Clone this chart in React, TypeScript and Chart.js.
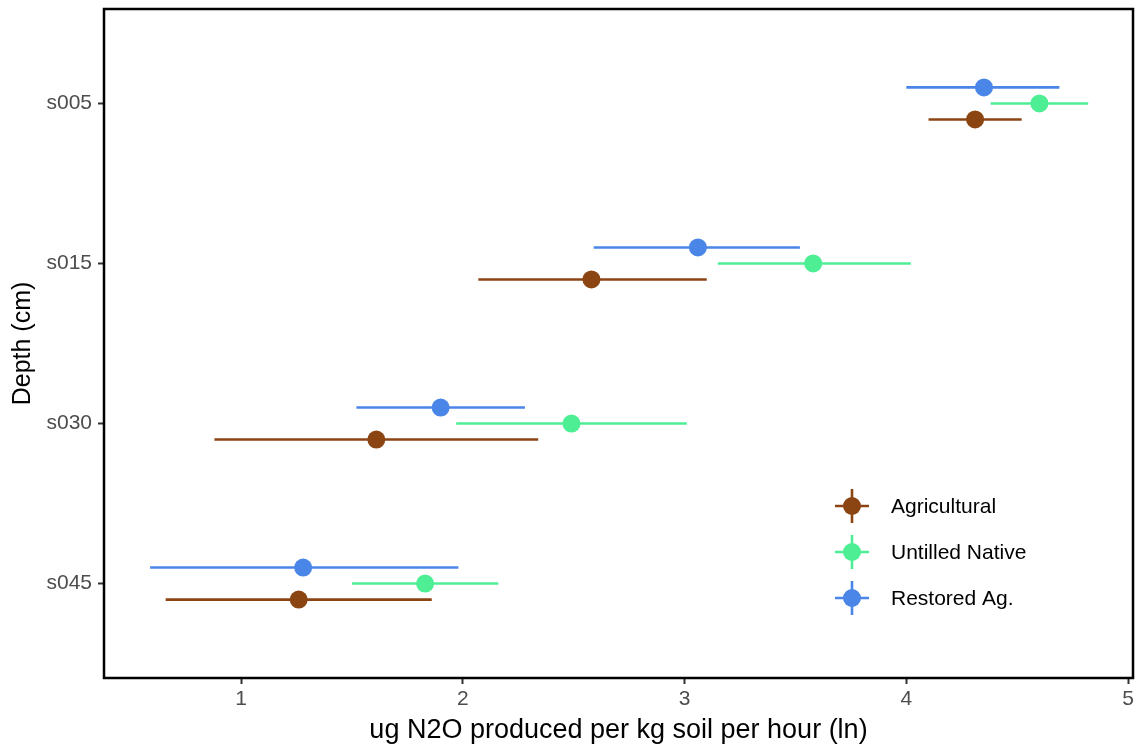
import React, { useEffect, useRef } from "react";
import { Chart, registerables } from "chart.js";

Chart.register(...registerables);

// ---------- data ----------
const depths = ["s005", "s015", "s030", "s045"];
const seriesNames = ["Agricultural", "Untilled Native", "Restored Ag."];
const seriesColors = ["#8B4513", "#4EEE94", "#4A86E8"];
const dodge = [0.1, 0, -0.1];

const agMean = [4.31, 2.58, 1.61, 1.26];
const agLow = [4.1, 2.07, 0.88, 0.66];
const agHigh = [4.52, 3.1, 2.34, 1.86];

const unMean = [4.6, 3.58, 2.49, 1.83];
const unLow = [4.38, 3.15, 1.97, 1.5];
const unHigh = [4.82, 4.02, 3.01, 2.16];

const reMean = [4.35, 3.06, 1.9, 1.28];
const reLow = [4.0, 2.59, 1.52, 0.59];
const reHigh = [4.69, 3.52, 2.28, 1.98];

const xTicks = [1, 2, 3, 4, 5];

const means = [agMean, unMean, reMean];
const lows = [agLow, unLow, reLow];
const highs = [agHigh, unHigh, reHigh];

const FONT = "'Liberation Sans', Arial, Helvetica, sans-serif";

const errorBarPlugin = {
  id: "errorBars",
  beforeDatasetsDraw(chart: any) {
    const { ctx, chartArea, scales } = chart;
    const xs = scales.x;
    const ys = scales.y;
    ctx.save();
    ctx.beginPath();
    ctx.rect(chartArea.left, chartArea.top, chartArea.right - chartArea.left, chartArea.bottom - chartArea.top);
    ctx.clip();
    ctx.lineWidth = 2.6;
    ctx.lineCap = "butt";
    for (let s = 0; s < means.length; s++) {
      ctx.strokeStyle = seriesColors[s];
      for (let i = 0; i < depths.length; i++) {
        const y = ys.getPixelForValue(i + dodge[s]);
        ctx.beginPath();
        ctx.moveTo(xs.getPixelForValue(lows[s][i]), y);
        ctx.lineTo(xs.getPixelForValue(highs[s][i]), y);
        ctx.stroke();
      }
    }
    ctx.restore();
  },
  afterDraw(chart: any) {
    const { ctx, chartArea } = chart;
    ctx.save();
    // panel border
    ctx.strokeStyle = "#000";
    ctx.lineWidth = 2.5;
    ctx.strokeRect(chartArea.left, chartArea.top, chartArea.right - chartArea.left, chartArea.bottom - chartArea.top);
    // legend
    const lx = chartArea.right - 281;
    const ly0 = chartArea.bottom - 172;
    const gap = 46;
    for (let s = 0; s < seriesNames.length; s++) {
      const y = ly0 + s * gap;
      ctx.strokeStyle = seriesColors[s];
      ctx.lineWidth = 2.6;
      ctx.beginPath();
      ctx.moveTo(lx - 17, y);
      ctx.lineTo(lx + 17, y);
      ctx.moveTo(lx, y - 17);
      ctx.lineTo(lx, y + 17);
      ctx.stroke();
      ctx.fillStyle = seriesColors[s];
      ctx.beginPath();
      ctx.arc(lx, y, 9, 0, Math.PI * 2);
      ctx.fill();
      ctx.fillStyle = "#000";
      ctx.font = `21px ${FONT}`;
      ctx.textAlign = "left";
      ctx.textBaseline = "middle";
      ctx.fillText(seriesNames[s], lx + 39, y + 1);
    }
    ctx.restore();
  },
};

const CANVAS_W = 1142;
const CANVAS_H = 750;

export default function App() {
  const ref = useRef<HTMLCanvasElement | null>(null);

  useEffect(() => {
    if (!ref.current) return;
    const datasets = seriesNames.map((name, s) => ({
      label: name,
      data: means[s].map((v, i) => ({ x: v, y: i + dodge[s] })),
      backgroundColor: seriesColors[s],
      borderColor: seriesColors[s],
      borderWidth: 0,
      pointRadius: 9,
      pointHoverRadius: 9,
      showLine: false,
    }));

    const chart = new Chart(ref.current, {
      type: "scatter",
      data: { datasets },
      plugins: [errorBarPlugin],
      options: {
        responsive: false,
        animation: false,
        events: [],
        layout: { padding: { top: 6, right: 0, left: 0, bottom: 0 } },
        plugins: {
          legend: { display: false },
          tooltip: { enabled: false },
          title: { display: false },
        },
        scales: {
          x: {
            type: "linear",
            min: 0.382,
            max: 5.022,
            afterBuildTicks: (scale: any) => {
              scale.ticks = xTicks.map((v) => ({ value: v }));
            },
            afterFit: (scale: any) => {
              scale.height = 72;
              scale.paddingLeft = 0;
              scale.paddingRight = 0;
            },
            grid: {
              drawOnChartArea: false,
              drawTicks: true,
              tickLength: 6,
              tickWidth: 2,
              tickColor: "#333333",
            },
            border: { display: false },
            ticks: {
              color: "#4D4D4D",
              font: { family: FONT, size: 21 },
              padding: 3,
              maxRotation: 0,
              callback: (v: any) => String(v),
            },
            title: {
              display: true,
              text: "ug N2O produced per kg soil per hour (ln)",
              color: "#000",
              font: { family: FONT, size: 27 },
              padding: { top: 0, bottom: 3 },
            },
          },
          y: {
            type: "linear",
            reverse: true,
            min: -0.59,
            max: 3.59,
            afterBuildTicks: (scale: any) => {
              scale.ticks = depths.map((_, i) => ({ value: i }));
            },
            afterFit: (scale: any) => {
              scale.width = 104;
              scale.paddingTop = 0;
              scale.paddingBottom = 0;
            },
            grid: {
              drawOnChartArea: false,
              drawTicks: true,
              tickLength: 6,
              tickWidth: 2,
              tickColor: "#333333",
            },
            border: { display: false },
            ticks: {
              color: "#4D4D4D",
              font: { family: FONT, size: 21 },
              padding: 6,
              callback: (v: any) => depths[Math.round(Number(v))] ?? "",
            },
            title: {
              display: true,
              text: "Depth (cm)",
              color: "#000",
              font: { family: FONT, size: 25 },
              padding: { top: 8, bottom: 0 },
            },
          },
        },
      } as any,
    });
    return () => chart.destroy();
  }, []);

  return (
    <div style={{ position: "fixed", left: 0, top: 0, width: 1138, height: 750, overflow: "hidden", background: "#fff" }}>
      <canvas ref={ref} width={CANVAS_W} height={CANVAS_H} style={{ width: CANVAS_W, height: CANVAS_H, display: "block" }} />
    </div>
  );
}
